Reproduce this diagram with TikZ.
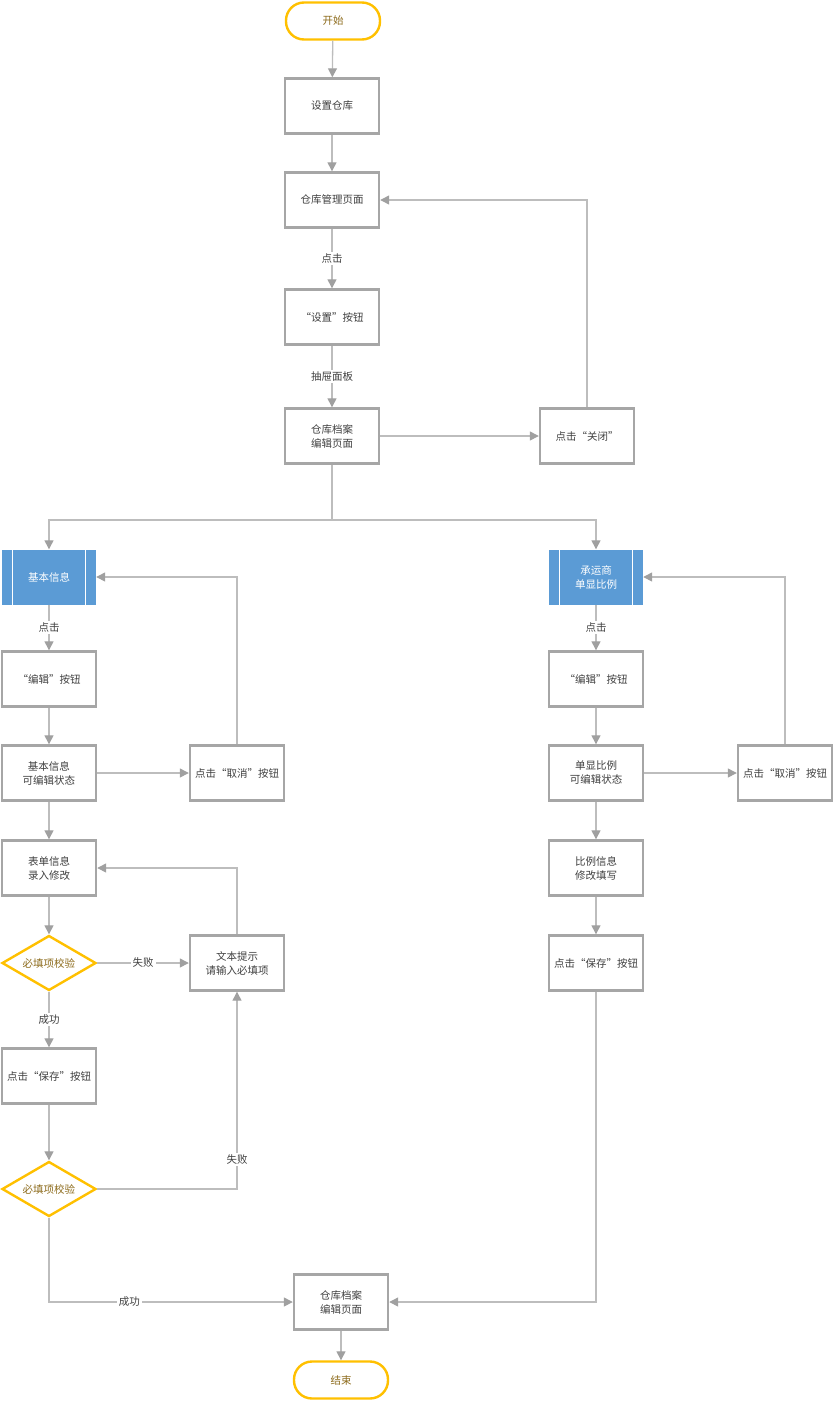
\documentclass[tikz,border=0pt]{standalone}
\usepackage{fontspec}
\setmainfont{Noto Sans CJK SC}
\usetikzlibrary{arrows.meta,shapes.geometric}
\definecolor{boxgray}{HTML}{A6A6A6}
\definecolor{linegray}{HTML}{BDBDBD}
\definecolor{tipgray}{HTML}{A0A0A0}
\definecolor{txtgray}{HTML}{404040}
\definecolor{flowyellow}{HTML}{FFC000}
\definecolor{flowbrown}{HTML}{8C6A1A}
\definecolor{flowblue}{HTML}{5B9BD5}
\tikzset{
  base/.style={font=\fontsize{10.5}{14}\selectfont, align=center, inner sep=0pt},
  stepbox/.style={base, draw=boxgray, line width=2.4pt, fill=white, text=txtgray,
    minimum width=94pt, minimum height=55pt},
  terminal/.style={base, draw=flowyellow, line width=2.4pt, fill=white, text=flowbrown,
    rounded corners=18pt, minimum width=94pt, minimum height=37pt},
  module/.style={base, fill=flowblue, text=white, minimum width=94pt, minimum height=55pt},
  check/.style={base, diamond, aspect=2.4, draw=flowyellow, line width=2.4pt, fill=white,
    text=flowbrown, minimum width=94pt, minimum height=55pt},
  flow/.style={draw=linegray, line width=1.3pt, -{Triangle[length=9pt,width=9pt,color=tipgray]}},
  plain/.style={draw=linegray, line width=1.3pt},
  tag/.style={base, fill=white, text=txtgray, inner sep=2pt}
}
\begin{document}
\begin{tikzpicture}[x=1pt, y=-1pt]
  \useasboundingbox (0,0) rectangle (834,1401);
  % main column
  \node[terminal] (start) at (333,21) {开始};
  \node[stepbox] (setwh) at (332,106) {设置仓库};
  \node[stepbox] (mgr) at (332,200) {仓库管理页面};
  \node[stepbox] (setbtn) at (332,317) {“设置”按钮};
  \node[stepbox] (edit) at (332,436) {仓库档案\\编辑页面};
  \node[stepbox] (close) at (587,436) {点击“关闭”};
  % left branch
  \node[module] (basic) at (49,577) {基本信息};
  \node[stepbox] (ledit) at (49,679) {“编辑”按钮};
  \node[stepbox] (lstate) at (49,773) {基本信息\\可编辑状态};
  \node[stepbox] (lcancel) at (237,773) {点击“取消”按钮};
  \node[stepbox] (form) at (49,868) {表单信息\\录入修改};
  \node[check] (chka) at (49,963) {必填项校验};
  \node[stepbox] (hint) at (237,963) {文本提示\\请输入必填项};
  \node[stepbox] (lsave) at (49,1076) {点击“保存”按钮};
  \node[check] (chkb) at (49,1189) {必填项校验};
  % right branch
  \node[module] (carrier) at (596,577) {承运商\\单显比例};
  \node[stepbox] (redit) at (596,679) {“编辑”按钮};
  \node[stepbox] (rstate) at (596,773) {单显比例\\可编辑状态};
  \node[stepbox] (rcancel) at (785,773) {点击“取消”按钮};
  \node[stepbox] (ratio) at (596,868) {比例信息\\修改填写};
  \node[stepbox] (rsave) at (596,963) {点击“保存”按钮};
  % end
  \node[stepbox] (back) at (341,1302) {仓库档案\\编辑页面};
  \node[terminal] (stop) at (341,1380) {结束};
  % side bars of the blue modules
  \foreach \m in {basic,carrier} {
      \draw[white, line width=1pt] ([xshift=11pt]\m.north west) -- ([xshift=11pt]\m.south west);
      \draw[white, line width=1pt] ([xshift=-11pt]\m.north east) -- ([xshift=-11pt]\m.south east);
  }
  \coordinate (split) at (332,520);
  % connectors
  \draw[flow] (start) -- (setwh);
  \draw[flow] (setwh) -- (mgr);
  \draw[flow] (mgr) -- node[tag] {点击} (setbtn);
  \draw[flow] (setbtn) -- node[tag] {抽屉面板} (edit);
  \draw[flow] (edit) -- (close);
  \draw[flow] (close.north) |- (mgr.east);
  \draw[plain] (edit.south) -- (split);
  \draw[flow] (split) -| (basic.north);
  \draw[flow] (split) -| (carrier.north);
  \foreach \a/\b in {ledit/lstate, lstate/form, form/chka, lsave/chkb,
                     redit/rstate, rstate/ratio, ratio/rsave, back/stop} {
      \draw[flow] (\a) -- (\b);
  }
  \draw[flow] (basic) -- node[tag] {点击} (ledit);
  \draw[flow] (carrier) -- node[tag] {点击} (redit);
  \draw[flow] (lstate) -- (lcancel);
  \draw[flow] (rstate) -- (rcancel);
  \draw[flow] (lcancel.north) |- (basic.east);
  \draw[flow] (rcancel.north) |- (carrier.east);
  \draw[flow] (chka) -- node[tag] {失败} (hint);
  \draw[flow] (hint.north) |- (form.east);
  \draw[flow] (chka) -- node[tag] {成功} (lsave);
  \draw[flow] (chkb.east) -| node[tag, pos=0.575] {失败} (hint.south);
  \draw[flow] (chkb.south) |- node[tag, pos=0.665] {成功} (back.west);
  \draw[flow] (rsave.south) |- (back.east);
\end{tikzpicture}
\end{document}
